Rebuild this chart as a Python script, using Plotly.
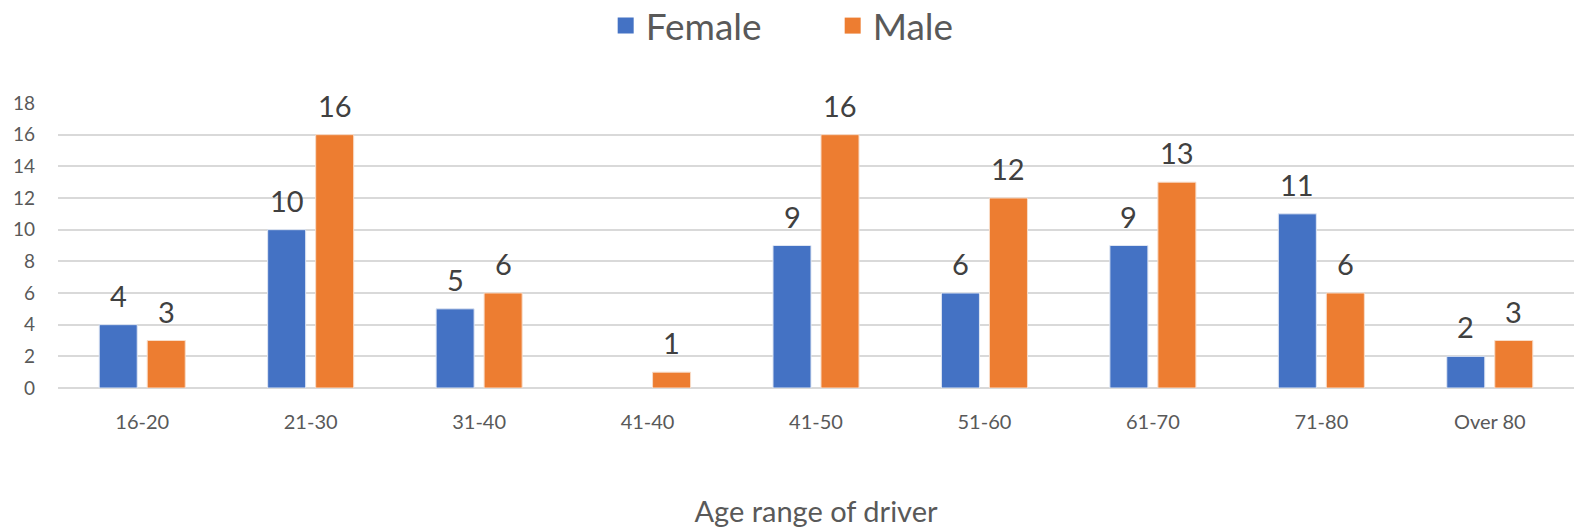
import plotly.graph_objects as go

categories = ["16-20", "21-30", "31-40", "41-40", "41-50", "51-60", "61-70", "71-80", "Over 80"]
female = [4, 10, 5, None, 9, 6, 9, 11, 2]
male = [3, 16, 6, 1, 16, 12, 13, 6, 3]
y_ticks = list(range(0, 19, 2))

BLUE = "#4472C4"
ORANGE = "#ED7D31"
FONT = "Lato"

fig = go.Figure()
fig.add_trace(go.Bar(
    name="Female", x=categories, y=female, showlegend=False,
    marker=dict(color=BLUE, line=dict(color="#dfe6f3", width=1)),
))
fig.add_trace(go.Bar(
    name="Male", x=categories, y=male, showlegend=False,
    marker=dict(color=ORANGE, line=dict(color="#f8dcc8", width=1)),
))
# legend entries with larger square symbols
for name, col in [("Female", BLUE), ("Male", ORANGE)]:
    fig.add_trace(go.Scatter(
        name=name, x=[None], y=[None], mode="markers",
        marker=dict(symbol="square", size=24, color=col),
    ))

# data labels placed from the data values
for vals, shift in [(female, -24), (male, 24)]:
    for c, v in zip(categories, vals):
        if v is None:
            continue
        fig.add_annotation(
            x=c, y=v, xref="x", yref="y", text=str(v), showarrow=False,
            xshift=shift, yshift=10, yanchor="bottom",
            font=dict(size=29, color="#404040", family=FONT),
        )

fig.update_layout(
    width=1577, height=528,
    paper_bgcolor="white", plot_bgcolor="white",
    margin=dict(l=58, r=3, t=103, b=140, autoexpand=False),
    barmode="group", bargap=0.43, bargroupgap=0.208,
    font=dict(family=FONT, color="#595959"),
    showlegend=True,
    legend=dict(orientation="h", x=0.511, xanchor="center", y=1.27, yanchor="middle",
                font=dict(size=37, color="#595959"), itemsizing="trace",
                traceorder="normal", entrywidth=182, entrywidthmode="pixels"),
    xaxis=dict(
        title=dict(text="Age range of driver", font=dict(size=29, color="#595959"), standoff=73),
        tickfont=dict(size=20, color="#595959"), showline=False, ticks="",
        ticklabelstandoff=20,
    ),
    yaxis=dict(
        range=[0, 18], tickvals=y_ticks, tickfont=dict(size=19, color="#595959"),
        showgrid=True, gridcolor="#d9d9d9", gridwidth=1.5,
        zeroline=True, zerolinecolor="#d9d9d9", zerolinewidth=1.5,
        ticks="", ticklabelstandoff=22,
    ),
)

fig.write_html("out.html", config={"displayModeBar": False},
               post_script="document.body.style.margin='0';")
